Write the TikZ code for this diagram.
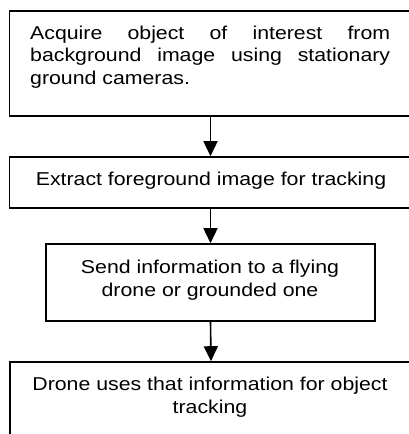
\documentclass[tikz,border=0pt]{standalone}
\usepackage{fontspec}
\setmainfont[FakeStretch=1.145]{Liberation Sans}
\usetikzlibrary{arrows.meta}
\begin{document}
\begin{tikzpicture}[x=1pt,y=-1pt,
  box/.style={draw=black,line width=1.6pt,inner sep=0pt,minimum width=#1},
  txt/.style={inner sep=0pt,font=\fontsize{18.6}{22.5}\selectfont},
  arr/.style={line width=1.6pt,-{Triangle[width=14pt,length=15pt]}}]
\useasboundingbox (0,0) rectangle (409,434);
\clip (0,0) rectangle (409,434);
\node[box=402pt,minimum height=105pt] (b1) at (210.5,63.5) {};
\node[box=402pt,minimum height=51pt] (b2) at (210.5,182.5) {};
\node[box=329pt,minimum height=77pt] (b3) at (210.5,282.5) {};
\node[box=402pt,minimum height=90pt] (b4) at (211,407) {};
\node[txt,align=left,anchor=base west] (t1) at (30,84)
  {\makebox[360pt][s]{Acquire object of interest from}\\
   \makebox[360pt][s]{background image using stationary}\\
   ground cameras.};
\node[txt,anchor=base] (t2) at (211,185) {Extract foreground image for tracking};
\node[txt,align=center,anchor=base] (t3) at (210,296) {Send information to a flying\\drone or grounded one};
\node[txt,align=center,anchor=base] (t4) at (210,413) {Drone uses that information for object\\tracking};
\draw[arr] (b1.south) -- (b2.north);
\draw[arr] (b2.south) -- (b3.north);
\draw[arr] (b3.south) -- (b4.north);
\end{tikzpicture}
\end{document}
